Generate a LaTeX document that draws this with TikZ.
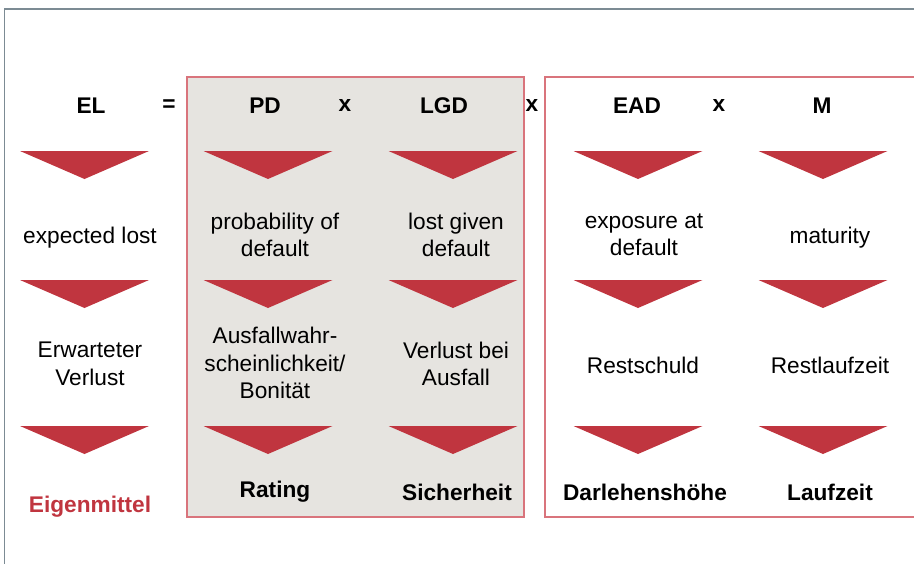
\documentclass[tikz,border=0pt]{standalone}
\usepackage{fontspec}
\setmainfont{Liberation Sans}
\definecolor{elred}{HTML}{C0353F}
\definecolor{boxred}{HTML}{D9747C}
\definecolor{boxgray}{HTML}{E6E4E0}
\definecolor{framegray}{HTML}{7C8B94}
\tikzset{every picture/.style={line width=0.75pt}}
\tikzset{
  txt/.style={font=\fontsize{17}{20.6}\selectfont, align=center, inner sep=0pt},
  bold/.style={txt, font=\fontsize{17}{20.6}\selectfont\bfseries},
  redtri/.style={fill=elred},
  boxline/.style={draw=boxred, line width=1pt}
}
\begin{document}
\begin{tikzpicture}[x=0.75pt,y=0.75pt,yscale=-1,xscale=1]
	\useasboundingbox (0,0) rectangle (914,564);
	\clip (0,0) rectangle (914,564);

	%Shape: Frame
	\draw [draw=framegray, line width=1.1pt] (4.5,580) -- (4.5,9) -- (930,9) ;
	%Shape: Rectangle (PD, LGD)
	\draw [boxline, fill=boxgray] (187,77) rectangle (524,517) ;
	%Shape: Rectangle (EAD, M)
	\draw [boxline] (545,77) rectangle (940,517) ;

	%Shape: Triangle row 1
	\fill [redtri] (20,151) -- (149,151) -- (84.5,179) -- cycle ;
	\fill [redtri] (203.5,151) -- (332.5,151) -- (268,179) -- cycle ;
	\fill [redtri] (388.5,151) -- (517.5,151) -- (453,179) -- cycle ;
	\fill [redtri] (573.5,151) -- (702.5,151) -- (638,179) -- cycle ;
	\fill [redtri] (758.5,151) -- (887.5,151) -- (823,179) -- cycle ;
	%Shape: Triangle row 2
	\fill [redtri] (20,280) -- (149,280) -- (84.5,308) -- cycle ;
	\fill [redtri] (203.5,280) -- (332.5,280) -- (268,308) -- cycle ;
	\fill [redtri] (388.5,280) -- (517.5,280) -- (453,308) -- cycle ;
	\fill [redtri] (573.5,280) -- (702.5,280) -- (638,308) -- cycle ;
	\fill [redtri] (758.5,280) -- (887.5,280) -- (823,308) -- cycle ;
	%Shape: Triangle row 3
	\fill [redtri] (20,426) -- (149,426) -- (84.5,454) -- cycle ;
	\fill [redtri] (203.5,426) -- (332.5,426) -- (268,454) -- cycle ;
	\fill [redtri] (388.5,426) -- (517.5,426) -- (453,454) -- cycle ;
	\fill [redtri] (573.5,426) -- (702.5,426) -- (638,454) -- cycle ;
	\fill [redtri] (758.5,426) -- (887.5,426) -- (823,454) -- cycle ;

	% Text Node: formula
	\node [bold] (el) at (91,106) {EL};
	\node [bold] (eq) at (169,106) {=};
	\node [bold] (pd) at (265,106) {PD};
	\node [bold] (x1) at (345,106) {x};
	\node [bold] (lgd) at (444,106) {LGD};
	\node [bold] (x2) at (532,106) {x};
	\node [bold] (ead) at (637,106) {EAD};
	\node [bold] (x3) at (719,106) {x};
	\node [bold] (m) at (822,106) {M};

	% Text Node: english
	\node [txt] (elen) at (90,238) {expected lost};
	\node [txt] (pden) at (275,235) {probability of\\default};
	\node [txt] (lgden) at (456,235) {lost given\\default};
	\node [txt] (eaden) at (644,235) {exposure at\\default};
	\node [txt] (men) at (830,238) {maturity};

	% Text Node: german
	\node [txt] (elde) at (90,364) {Erwarteter\\Verlust};
	\node [txt] (pdde) at (275,363) {Ausfallwahr-\\scheinlichkeit/\\Bonität};
	\node [txt] (lgdde) at (456,364) {Verlust bei\\Ausfall};
	\node [txt] (eadde) at (643,365) {Restschuld};
	\node [txt] (mde) at (830,365) {Restlaufzeit};

	% Text Node: result
	\node [bold, text=elred] (elres) at (90,507) {Eigenmittel};
	\node [bold] (pdres) at (275,492) {Rating};
	\node [bold] (lgdres) at (457,492) {Sicherheit};
	\node [bold] (eadres) at (645,492) {Darlehenshöhe};
	\node [bold] (mres) at (830,492) {Laufzeit};

\end{tikzpicture}
\end{document}
